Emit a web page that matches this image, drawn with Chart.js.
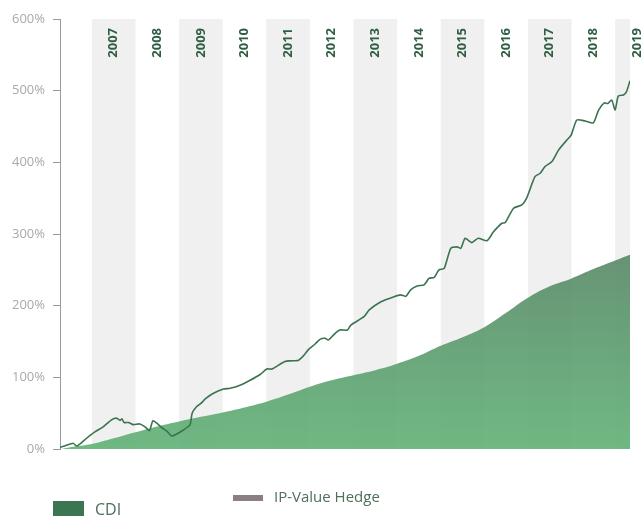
<!DOCTYPE html>
<html>
<head>
<meta charset="utf-8">
<script src="https://cdn.jsdelivr.net/npm/chart.js@4.4.1/dist/chart.umd.min.js"></script>
<style>
  html, body { margin: 0; padding: 0; background: #fff; }
  #wrap { position: relative; width: 644px; height: 516px; overflow: hidden; font-family: "Open Sans", sans-serif; }
  #myChart { position: absolute; left: 0; top: 0; }
  .lg { position: absolute; color: #4f6f5b; white-space: nowrap; }
</style>
</head>
<body>
<div id="wrap">
  <canvas id="myChart" width="644" height="516"></canvas>
  <div class="lg" style="left:53px;top:501px;width:31px;height:31px;background:#3c7552;"></div>
  <div class="lg" style="left:95px;top:499px;font-size:16px;line-height:20px;">CDI</div>
  <div class="lg" style="left:233px;top:495px;width:30px;height:6px;background:#8a7f83;"></div>
  <div class="lg" style="left:274px;top:486px;font-size:15px;line-height:20px;">IP-Value Hedge</div>
</div>
<script>
// year labels shown at the top of the chart
var years = [2007, 2008, 2009, 2010, 2011, 2012, 2013, 2014, 2015, 2016, 2017, 2018, 2019];
var yTicks = [0, 100, 200, 300, 400, 500, 600];

// IP-Value Hedge, accumulated return (%)
var hedgeDates = [2006.27, 2006.38, 2006.57, 2006.65, 2006.73, 2006.88, 2007.07, 2007.26, 2007.46, 2007.57,
                  2007.65, 2007.69, 2007.74, 2007.84, 2007.95, 2008.10, 2008.22, 2008.32, 2008.40, 2008.49,
                  2008.60, 2008.72, 2008.83, 2008.95, 2009.10, 2009.25, 2009.30, 2009.40, 2009.52, 2009.60,
                  2009.79, 2010.02, 2010.17, 2010.40, 2010.63, 2010.86, 2011.01, 2011.13, 2011.28, 2011.43,
                  2011.55, 2011.74, 2011.85, 2011.97, 2012.12, 2012.23, 2012.35, 2012.42, 2012.54, 2012.68,
                  2012.86, 2012.94, 2013.24, 2013.36, 2013.63, 2013.93, 2014.08, 2014.20, 2014.31, 2014.46,
                  2014.62, 2014.73, 2014.85, 2014.96, 2015.08, 2015.23, 2015.38, 2015.46, 2015.56, 2015.71,
                  2015.86, 2016.06, 2016.21, 2016.40, 2016.48, 2016.67, 2016.86, 2016.97, 2017.16, 2017.28,
                  2017.39, 2017.55, 2017.70, 2017.89, 2017.99, 2018.12, 2018.31, 2018.50, 2018.62, 2018.75,
                  2018.83, 2018.92, 2019.00, 2019.07, 2019.19, 2019.26, 2019.34];
var hedgeValues = [2.4, 4.2, 8, 4.2, 7, 15, 24, 31, 41, 43,
                   40, 42, 37, 37, 34, 35, 31, 25.5, 39.5, 36,
                   30, 25, 18, 21, 26.5, 33.5, 50, 59, 64.6, 70,
                   77.7, 83.7, 84.7, 89, 96, 104, 111.6, 111.6, 117, 122,
                   123, 124, 130, 139, 146.5, 153, 154.5, 152, 159, 166,
                   166, 173, 184.6, 194, 205.5, 212.5, 215, 213, 222, 227.5,
                   229, 238, 239.5, 250, 252, 280, 282, 280, 294, 288,
                   294, 290.6, 303, 315, 316, 336, 340.5, 350, 380, 384.7,
                   394, 401, 417, 431, 438, 459, 457.7, 455, 473, 483,
                   482, 487, 473, 492.5, 494, 498.6, 514];

// CDI, accumulated return (%)
var cdiDates = [2006.31, 2006.5, 2007.0, 2007.5, 2008.0, 2008.5, 2009.0, 2009.5, 2010.0, 2010.5,
                2011.0, 2011.5, 2012.0, 2012.5, 2013.0, 2013.5, 2014.0, 2014.5, 2015.0, 2015.5,
                2016.0, 2016.5, 2017.0, 2017.5, 2018.0, 2018.5, 2019.0, 2019.34];
var cdiValues = [0, 2.5, 7, 15, 23.5, 31.5, 38.5, 45, 51, 58,
                 66, 76, 87, 96, 103, 110, 119, 130, 144, 156,
                 170, 190, 211, 227, 238, 251, 263, 271];

var hedgeData = [];
for (var i = 0; i < hedgeDates.length; i++) hedgeData.push({x: hedgeDates[i], y: hedgeValues[i]});
var cdiData = [];
for (var j = 0; j < cdiDates.length; j++) cdiData.push({x: cdiDates[j], y: cdiValues[j]});

// grey bands for every other year + year labels on top
var yearBands = {
  id: 'yearBands',
  beforeDatasetsDraw: function(chart) {
    var ctx = chart.ctx, xs = chart.scales.x, a = chart.chartArea;
    ctx.save();
    ctx.fillStyle = '#f0f0f0';
    for (var k = 0; k < years.length; k += 2) {
      var x0 = Math.max(xs.getPixelForValue(years[k]), a.left);
      var x1 = Math.min(xs.getPixelForValue(years[k] + 1), a.right);
      if (x1 > x0) ctx.fillRect(x0, a.top, x1 - x0, a.bottom - a.top);
    }
    ctx.restore();
  },
  afterDraw: function(chart) {
    var ctx = chart.ctx, xs = chart.scales.x, a = chart.chartArea;
    ctx.save();
    ctx.fillStyle = '#2f5f43';
    ctx.font = 'bold 13px "Open Sans"';
    ctx.textAlign = 'right';
    ctx.textBaseline = 'middle';
    for (var k = 0; k < years.length; k++) {
      var px = xs.getPixelForValue(years[k] + 0.5);
      ctx.save();
      ctx.translate(px, a.top + 9);
      ctx.rotate(-Math.PI / 2);
      ctx.fillText(String(years[k]), 0, 0);
      ctx.restore();
    }
    ctx.restore();
  }
};

var canvas = document.getElementById('myChart').getContext('2d');
var chart = new Chart(canvas, {
  type: 'line',
  data: {
    datasets: [
      {
        label: 'IP-Value Hedge',
        data: hedgeData,
        borderColor: '#3b7350',
        borderWidth: 1.6,
        pointRadius: 0,
        tension: 0.2,
        fill: false,
        order: 0
      },
      {
        label: 'CDI',
        data: cdiData,
        borderWidth: 0,
        borderColor: 'rgba(0,0,0,0)',
        pointRadius: 0,
        tension: 0.4,
        fill: 'origin',
        order: 1,
        backgroundColor: function(c) {
          var a = c.chart.chartArea;
          if (!a) return 'rgba(99,168,118,0.92)';
          var g = c.chart.ctx.createLinearGradient(0, c.chart.scales.y.getPixelForValue(280), 0, a.bottom);
          g.addColorStop(0, 'rgba(92,138,106,0.93)');
          g.addColorStop(1, 'rgba(101,180,122,0.93)');
          return g;
        }
      }
    ]
  },
  options: {
    responsive: false,
    animation: false,
    layout: { padding: { left: 0, right: 14, top: 19, bottom: 67 } },
    plugins: { legend: { display: false }, tooltip: { enabled: false } },
    scales: {
      x: {
        type: 'linear',
        min: 2006.27,
        max: 2019.34,
        display: false
      },
      y: {
        min: 0,
        max: 600,
        afterFit: function(s) { s.width = 60; },
        afterBuildTicks: function(s) { s.ticks = yTicks.map(function(v) { return {value: v}; }); },
        border: { display: true, color: '#9a9a9a', width: 1 },
        grid: { drawOnChartArea: false, drawTicks: true, tickLength: 7, color: '#9a9a9a' },
        ticks: {
          padding: 8,
          color: '#a9a9a9',
          font: { family: 'Open Sans', size: 13 },
          callback: function(v) { return v + '%'; }
        }
      }
    }
  },
  plugins: [yearBands]
});
</script>
</body>
</html>
